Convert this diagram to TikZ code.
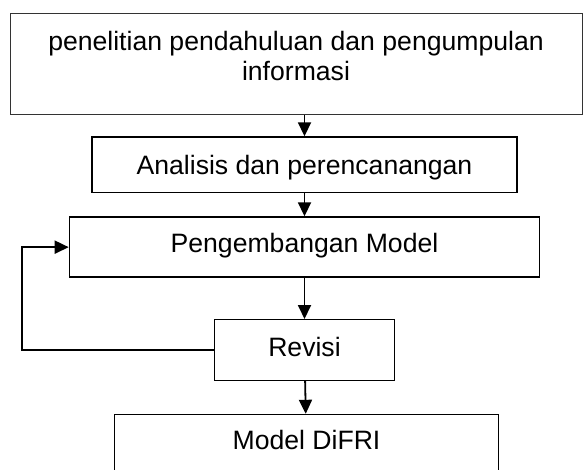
\documentclass[tikz,border=0pt]{standalone}
\usepackage{fontspec}
\setmainfont{Liberation Sans}
\usepackage{tikz}
\usetikzlibrary{positioning,arrows.meta}
\tikzset{kotak/.style={rectangle, draw=black, line width=1.3pt, inner ysep=0pt, font=\fontsize{26.6}{30}\selectfont},
panah/.style={line width=1.8pt, -{Triangle[length=14pt,width=13pt]}},}

\begin{document}
\begin{tikzpicture}[x=1pt, y=-1pt, node distance=22pt]
\useasboundingbox (0,0) rectangle (583,469);
\clip (0,0) rectangle (583,469);
\node [kotak, anchor=north, minimum width=572pt, align=center, text height=66.7pt, text depth=34.3pt, draw=black!80, line width=1pt] (info) at (296,13.3) {penelitian pendahuluan dan pengumpulan\\informasi};
\node [kotak, minimum width=425pt, text height=37.3pt, text depth=18.4pt] (analisis) [below=21pt of info, xshift=8.5pt] {Analisis dan perencanangan};
\node [kotak, minimum width=470pt, text height=35.8pt, text depth=24.3pt, line width=1.6pt] (kembang) [below=23pt of analisis] {Pengembangan Model};
\node [kotak, minimum width=180.5pt, text height=36.7pt, text depth=24pt, line width=1.1pt] (revisi) [below=41pt of kembang] {Revisi};
\node [kotak, minimum width=384pt, text height=35pt, text depth=40pt, line width=1.6pt] (difri) [below=33pt of revisi, xshift=2pt] {Model DiFRI};
\coordinate (balik) at (22,0);
\draw[panah] (analisis.north |- info.south) -- (analisis);
\draw[panah] (analisis) -- (kembang);
\draw[panah] (kembang) -- (revisi);
\draw[panah] (revisi) -- (difri);
\draw[panah] (revisi.west) -- (revisi.west -| balik) |- (kembang.west);
\end{tikzpicture}
\end{document}
